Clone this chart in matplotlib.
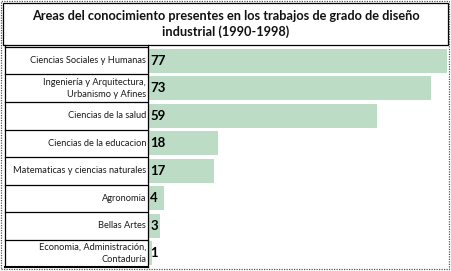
import matplotlib
matplotlib.use("Agg")
import matplotlib.pyplot as plt
from matplotlib.lines import Line2D
from matplotlib.patches import Rectangle

plt.rcParams['font.family'] = ['Lato', 'DejaVu Sans']

titulo = "Areas del conocimiento presentes en los trabajos de grado de diseño\nindustrial (1990-1998)"
areas = ["Ciencias Sociales y Humanas",
         "Ingeniería y Arquitectura,\nUrbanismo y Afines",
         "Ciencias de la salud",
         "Ciencias de la educacion",
         "Matematicas y ciencias naturales",
         "Agronomia",
         "Bellas Artes",
         "Economia, Administración,\nContaduría"]
trabajos = [77, 73, 59, 18, 17, 4, 3, 1]

W, H = 451, 271
fig = plt.figure(figsize=(W / 100, H / 100), dpi=100)


def fx(x):
    return x / W


def fy(y):
    return 1 - y / H


# bar area
top, bottom, left, right = 47, 267, 148, 447
ax = fig.add_axes([fx(left), fy(bottom), fx(right - left), (bottom - top) / H])
pos = list(range(len(areas)))
ax.barh(pos, trabajos, height=0.86, color='#bcdcc6', edgecolor='none')
ax.set_xlim(0, 77)
ax.set_ylim(len(areas) - 0.5, -0.5)
ax.set_xticks([])
ax.set_yticks([])
for s in ax.spines.values():
    s.set_visible(False)
for i, v in enumerate(trabajos):
    ax.text(0.6, i, str(v), va='center', ha='left', fontsize=9.5,
            fontweight='bold', color='black')

# left table with category names
row_h = (bottom - top) / len(areas)
for i, a in enumerate(areas):
    yc = top + row_h * (i + 0.5)
    fig.text(fx(left - 2), fy(yc), a, ha='right', va='center', fontsize=6.7,
             linespacing=1.45, color='#1a1a1a')
    fig.add_artist(Line2D([fx(5), fx(left)], [fy(top + row_h * i)] * 2,
                          color='black', lw=0.9))
fig.add_artist(Line2D([fx(5), fx(left)], [fy(bottom)] * 2, color='black', lw=1.5))
fig.add_artist(Line2D([fx(5), fx(5)], [fy(45), fy(bottom)], color='black', lw=0.9))
fig.add_artist(Line2D([fx(left), fx(left)], [fy(45), fy(bottom)], color='black', lw=0.9))

# title box
fig.add_artist(Rectangle((fx(3), fy(45)), fx(445), (45 - 3) / H, fill=False,
                         edgecolor='black', lw=0.9))
fig.text(0.5, fy(24), titulo, ha='center', va='center', fontsize=9.2,
         fontweight='bold', linespacing=1.3, color='#111111')

# outer frame
fig.add_artist(Rectangle((fx(1), fy(269)), fx(448), 268 / H, fill=False,
                         edgecolor='#555555', lw=0.9, linestyle=(0, (1, 1))))

fig.savefig("out.png", dpi=100)
